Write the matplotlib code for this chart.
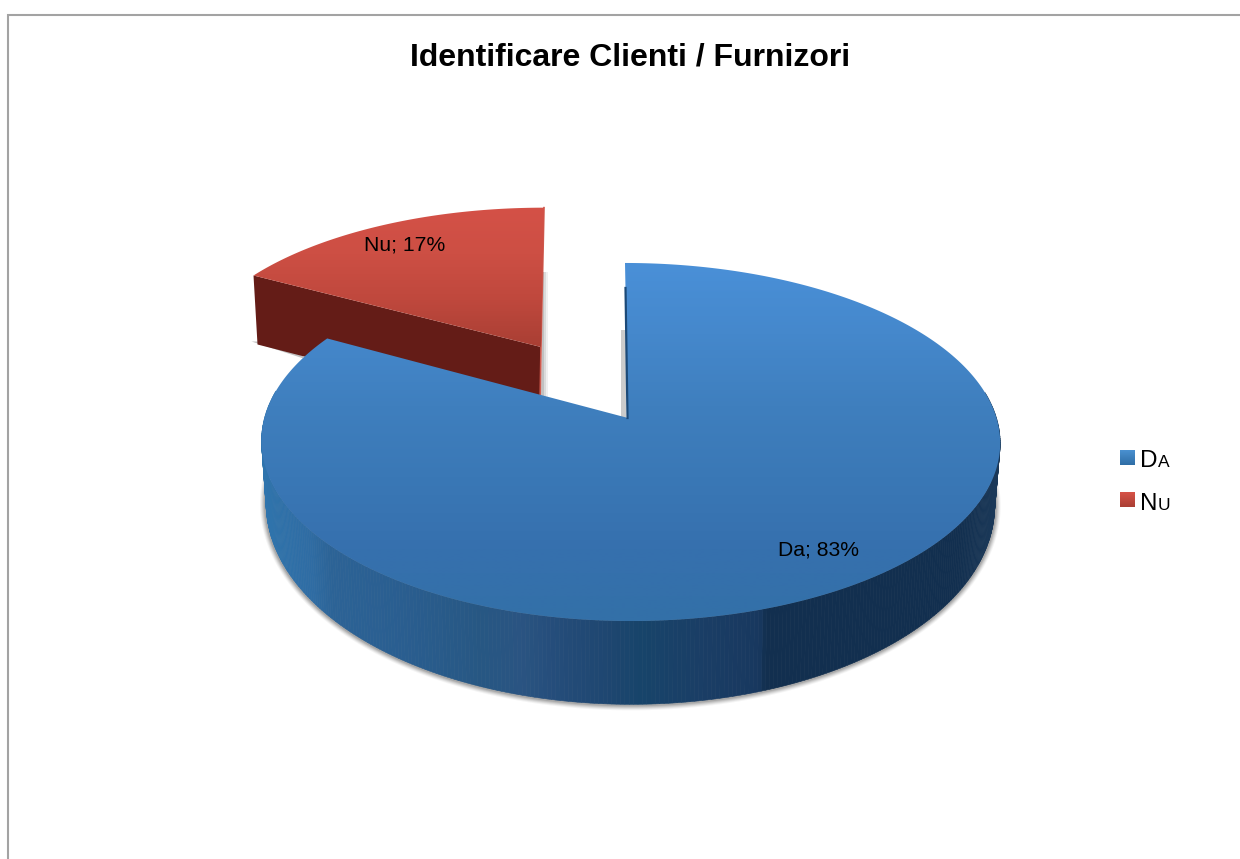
import numpy as np
import matplotlib
matplotlib.use('Agg')
import matplotlib.pyplot as plt
from matplotlib.colors import to_rgb, LinearSegmentedColormap
from matplotlib.patches import Polygon

plt.rcParams['font.family'] = ['Liberation Sans', 'DejaVu Sans']

# DATOS
categorias = ['Da', 'Nu']
valores = [83, 17]
titulo = 'Identificare Clienti / Furnizori'

# 1 px = 1 unidad
W, H = 1240, 859
fig = plt.figure(figsize=(W / 100, H / 100), dpi=100)
ax = fig.add_axes([0, 0, 1, 1])
ax.axis('off')

k = 0.134  # perspectiva


def punto(t, x0, y0, bx, ay, skew, lado=0.0):
    # t en radianes, 0 = atras, sentido horario
    u, v = np.sin(t), np.cos(t)
    w = 1 + k * v
    return x0 + bx * u / w + skew * v + lado * (1 - v ** 2), y0 - ay * v / w


def degradado(poly_xy, stops, y_ini, y_fin, z):
    cmap = LinearSegmentedColormap.from_list('g', stops)
    x1, x2 = poly_xy[:, 0].min() - 2, poly_xy[:, 0].max() + 2
    im = ax.imshow(np.linspace(0, 1, 256).reshape(-1, 1), cmap=cmap, aspect='auto',
                   extent=(x1, x2, y_fin, y_ini), zorder=z, interpolation='bilinear')
    clip = Polygon(poly_xy, closed=True, transform=ax.transData, fc='none', ec='none')
    ax.add_patch(clip)
    im.set_clip_path(clip)


total = sum(valores)
corte = -2 * np.pi * valores[1] / total  # limite entre las dos porciones

# 2. PORCION ROJA (separada)
x0r, y0r, bxr, ayr = 541, 347, 351, 158
t_r = np.linspace(corte, 0, 120)
xr, yr = punto(t_r, x0r, y0r, bxr, ayr, 3)
top_r = np.column_stack([np.r_[x0r, xr], np.r_[y0r, yr]])

# sombras de la porcion roja
for d, a in zip([7, 5, 3], [0.12, 0.2, 0.3]):
    ax.fill([x0r, x0r + d, x0r + d, x0r + 2], [398, 398, 272, 272], color='#888888', alpha=a, lw=0, zorder=1)
ax.fill([xr[0] - 2, xr[0] + 4, xr[0] + 50, xr[0] + 50], [yr[0] + 66, yr[0] + 66, yr[0] + 79, yr[0] + 83],
        color='#999999', alpha=0.6, lw=0, zorder=1)
# pared oscura
pared = [(xr[0], yr[0]), (x0r, y0r), (x0r - 1, y0r + 70), (xr[0] + 4, yr[0] + 69)]
ax.add_patch(Polygon(pared, closed=True, fc='#641c17', ec='none', zorder=2))
ax.plot([xr[-1], x0r, x0r - 1], [yr[-1], y0r, y0r + 60], color='#cf5a4e', lw=1.2, zorder=3)
degradado(top_r, ['#d45147', '#cd4f44', '#bf483d', '#a93f34'], yr.min(), y0r, 5)

# 3. PORCION AZUL
x0, y0, bx, ay = 628, 418, 366, 175.8
t_a = np.linspace(0, 2 * np.pi + corte, 500)
xa, ya = punto(t_a, x0, y0, bx, ay, -3, 2.5)
xb, yb = punto(t_a, x0, y0 + 60, bx - 5, 196, -3, 2.0)

# sombra difusa bajo la base (solo el arco delantero)
frente = (t_a > np.pi * 0.5) & (t_a < np.pi * 1.5)
cx, cy = 632, 505
for d, a in zip([6, 5, 4, 3, 2], [0.08, 0.12, 0.16, 0.22, 0.3]):
    ax.add_patch(Polygon(np.column_stack([cx + (xb[frente] - cx) * (1 + d / 364),
                                          cy + (yb[frente] - cy) * (1 + d / 199)]),
                         closed=True, fc='#777777', ec='none', alpha=a, zorder=6))

# pared con bandas segun x
x_banda = [262, 310, 330, 400, 480, 520, 560, 610, 640, 700, 760, 766, 960, 995]
col_banda = ['#2f74ad', '#2f6ca3', '#2c6396', '#2a5e90', '#275783', '#2a5482', '#244c79',
             '#1e4670', '#17446a', '#1a3e66', '#18385f', '#122f4f', '#122f4f', '#1a3858']
rgb_banda = np.array([to_rgb(c) for c in col_banda])
for i in range(len(t_a) - 1):
    if np.cos(t_a[i]) > 0.15:
        continue
    xm = (xa[i] + xa[i + 1]) / 2
    c = [np.interp(xm, x_banda, rgb_banda[:, j]) for j in range(3)]
    ax.add_patch(Polygon([(xa[i], ya[i]), (xa[i + 1], ya[i + 1]), (xb[i + 1], yb[i + 1]), (xb[i], yb[i])],
                         closed=True, fc=c, ec=c, lw=0.4, zorder=7))

# sombra junto al vertice
ax.fill([x0 - 7, x0 - 2, x0 - 2, x0 - 7], [330, 330, y0, y0], color='#aaaaaa', alpha=0.6, lw=0, zorder=4)

top_a = np.column_stack([np.r_[x0, xa], np.r_[y0, ya]])
degradado(top_a, ['#4a90d8', '#4588cc', '#3f7fbe', '#3a78b6', '#3670ae', '#3370a8'], ya.min(), ya.max(), 9)
ax.plot([x0 - 0.5, xa[0] + 0.5], [y0, ya[0] + 25], color='#1c4a78', lw=1.6, zorder=10)

# 4. TEXTOS
ax.text(630, 57, titulo, fontsize=23, fontweight='bold', ha='center', va='center', color='black', zorder=12)
ax.text(405, 245, f'{categorias[1]}; {valores[1]}%', fontsize=15.2, ha='center', va='center', color='black', zorder=12)
ax.text(818.5, 550, f'{categorias[0]}; {valores[0]}%', fontsize=15.2, ha='center', va='center', color='black', zorder=12)

# 5. LEYENDA (versalitas: primera letra grande, resto pequeno)
pos_y = [458, 499.5]
base_y = [467, 510]
colores_ley = [('#4a90d0', '#2f6ea6'), ('#d65247', '#ab3f34')]
ax.set_xlim(0, W)
ax.set_ylim(H, 0)
for cat, y, yb_txt, (c1, c2) in zip(categorias, pos_y, base_y, colores_ley):
    cm = LinearSegmentedColormap.from_list('l', [c1, c2])
    ax.imshow(np.linspace(0, 1, 32).reshape(-1, 1), cmap=cm, aspect='auto',
              extent=(1120, 1135, y + 7.5, y - 7.5), zorder=5)
    ax.set_xlim(0, W)
    ax.set_ylim(H, 0)
    t = ax.text(1140, yb_txt, cat[0], fontsize=17.5, ha='left', va='baseline', color='black')
    fig.canvas.draw()
    bb = t.get_window_extent()
    ax.text(bb.x1 + 0.5, yb_txt, cat[1:].upper(), fontsize=12.5, ha='left', va='baseline', color='black')

# 6. MARCO DEL GRAFICO
ax.plot([8, 8, W], [H, 14.5, 14.5], color='#a3a3a3', lw=1.5, solid_joinstyle='miter', zorder=12)

ax.set_xlim(0, W)
ax.set_ylim(H, 0)

fig.savefig('out.png', dpi=100, facecolor='white')
